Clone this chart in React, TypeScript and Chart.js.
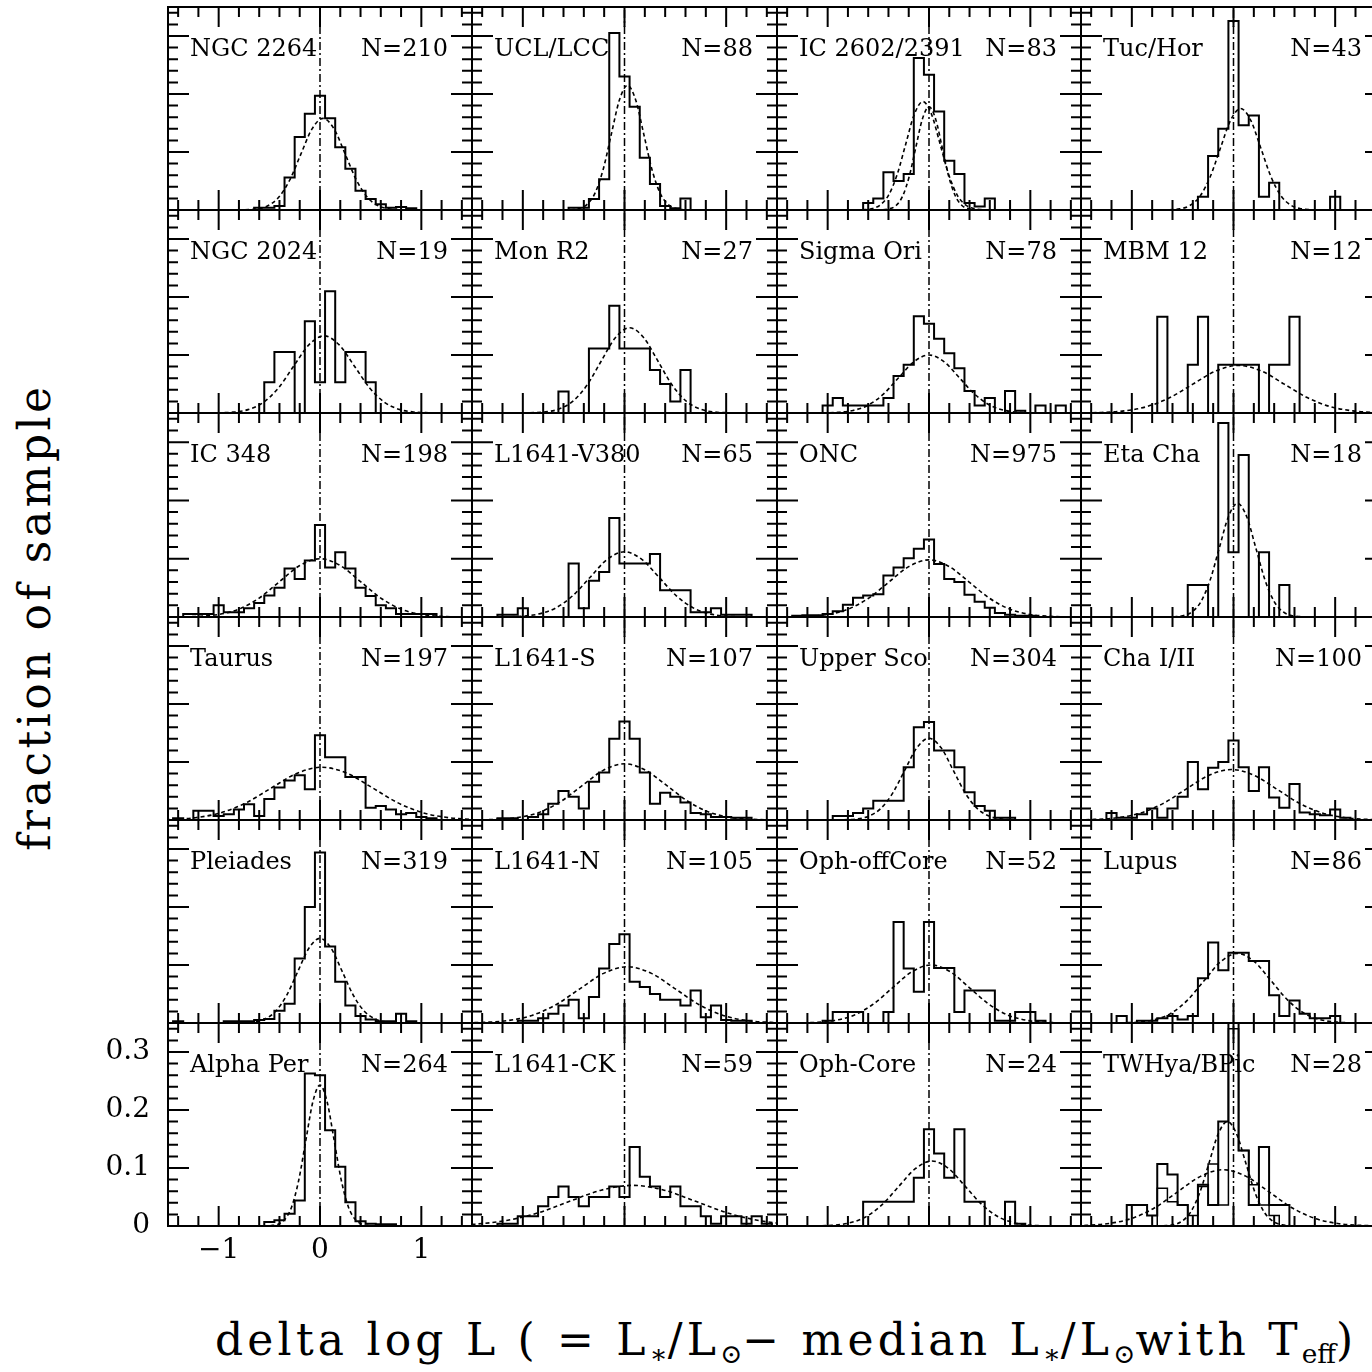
import React, { useEffect, useRef } from "react";
import { Chart, registerables } from "chart.js";

Chart.register(...registerables);

// ---------- data ----------
const panelNames = [
  "NGC 2264", "UCL/LCC", "IC 2602/2391", "Tuc/Hor",
  "NGC 2024", "Mon R2", "Sigma Ori", "MBM 12",
  "IC 348", "L1641-V380", "ONC", "Eta Cha",
  "Taurus", "L1641-S", "Upper Sco", "Cha I/II",
  "Pleiades", "L1641-N", "Oph-offCore", "Lupus",
  "Alpha Per", "L1641-CK", "Oph-Core", "TWHya/BPic",
];
const panelCounts = [
  "N=210", "N=88", "N=83", "N=43",
  "N=19", "N=27", "N=78", "N=12",
  "N=198", "N=65", "N=975", "N=18",
  "N=197", "N=107", "N=304", "N=100",
  "N=319", "N=105", "N=52", "N=86",
  "N=264", "N=59", "N=24", "N=28",
];

const binCenters = [
  -1.5, -1.4, -1.3, -1.2, -1.1, -1.0, -0.9, -0.8, -0.7, -0.6, -0.5, -0.4, -0.3, -0.2, -0.1,
  0, 0.1, 0.2, 0.3, 0.4, 0.5, 0.6, 0.7, 0.8, 0.9, 1.0, 1.1, 1.2, 1.3, 1.4, 1.5,
];
const binWidth = 0.1;

// centre of the first listed bin for each panel
const histStart = [
  -0.6, -0.5, -0.6, -0.3,
  -0.5, -0.6, -1.0, -0.7,
  -1.3, -1.2, -1.3, -0.4,
  -1.4, -1.2, -0.9, -1.2,
  -1.4, -1.0, -1.0, -1.1,
  -0.5, -1.2, -0.6, -1.0,
];
const histValues = [
  [0.004, 0.004, 0.007, 0.056, 0.126, 0.166, 0.197, 0.158, 0.108, 0.071, 0.033, 0.019, 0.010, 0.004, 0.005, 0.003],
  [0.004, 0.004, 0.019, 0.053, 0.305, 0.23, 0.178, 0.09, 0.045, 0.007, 0.003, 0.02],
  [0.012, 0.02, 0.065, 0.05, 0.062, 0.262, 0.233, 0.17, 0.085, 0.062, 0.012, 0.006, 0.02],
  [0.023, 0.093, 0.14, 0.326, 0.146, 0.163, 0.023, 0.047, 0, 0, 0, 0, 0, 0.023],
  [0.053, 0.105, 0.105, 0, 0.158, 0.053, 0.21, 0.053, 0.105, 0.105, 0.053],
  [0.037, 0, 0, 0.111, 0.111, 0.185, 0.111, 0.111, 0.111, 0.074, 0.05, 0.02, 0.074],
  [0.013, 0.026, 0.013, 0.013, 0.013, 0.013, 0.026, 0.064, 0.083, 0.167, 0.154, 0.128, 0.103, 0.077, 0.038, 0.013, 0.026, 0, 0.038, 0.004, 0, 0.013, 0, 0.013],
  [0.166, 0, 0, 0.083, 0.166, 0, 0.083, 0.083, 0.083, 0.083, 0, 0.083, 0.083, 0.166],
  [0.005, 0.005, 0.005, 0.02, 0.008, 0.008, 0.015, 0.024, 0.037, 0.05, 0.083, 0.065, 0.097, 0.158, 0.085, 0.111, 0.083, 0.05, 0.036, 0.02, 0.015, 0.005, 0.005, 0.005, 0.005],
  [0.004, 0.004, 0.015, 0, 0, 0, 0, 0.092, 0.015, 0.062, 0.077, 0.17, 0.092, 0.092, 0.092, 0.108, 0.046, 0.046, 0.046, 0.008, 0.008, 0.015, 0.004, 0.004, 0.004],
  [0.002, 0.003, 0.003, 0.005, 0.01, 0.021, 0.033, 0.037, 0.039, 0.071, 0.085, 0.101, 0.117, 0.133, 0.091, 0.065, 0.06, 0.038, 0.026, 0.016, 0.007, 0.004, 0.002, 0.002],
  [0.055, 0.055, 0, 0.333, 0.111, 0.278, 0, 0.111, 0, 0.055],
  [0.003, 0, 0.016, 0.016, 0.007, 0.01, 0.018, 0.027, 0.007, 0.036, 0.056, 0.068, 0.077, 0.053, 0.146, 0.108, 0.108, 0.074, 0.074, 0.021, 0.024, 0.018, 0.01, 0.012, 0.005, 0.003],
  [0.003, 0.003, 0, 0.005, 0.01, 0.028, 0.05, 0.04, 0.02, 0.066, 0.082, 0.14, 0.17, 0.14, 0.082, 0.028, 0.047, 0.04, 0.03, 0.012, 0.01, 0.005, 0.005, 0.004, 0.004],
  [0.007, 0.007, 0.012, 0.02, 0.033, 0.033, 0.033, 0.091, 0.16, 0.169, 0.12, 0.12, 0.091, 0.048, 0.024, 0.016, 0.004, 0.004],
  [0.012, 0.004, 0.004, 0.01, 0.02, 0.004, 0.02, 0.04, 0.1, 0.053, 0.09, 0.1, 0.137, 0.091, 0.05, 0.091, 0.039, 0.021, 0.062, 0.013, 0.01, 0.008, 0.018, 0.004],
  [0.003, 0, 0, 0, 0, 0.003, 0.003, 0.003, 0.005, 0.007, 0.021, 0.033, 0.111, 0.2, 0.294, 0.132, 0.071, 0.03, 0.012, 0.006, 0.003, 0.003, 0.016, 0.003],
  [0.004, 0.004, 0.008, 0.016, 0.03, 0.04, 0.008, 0.045, 0.094, 0.136, 0.153, 0.071, 0.062, 0.05, 0.04, 0.04, 0.03, 0.056, 0.01, 0.03, 0.005, 0.004, 0.004],
  [0.004, 0.019, 0.019, 0.019, 0, 0, 0.019, 0.174, 0.094, 0.054, 0.174, 0.095, 0.095, 0.019, 0.056, 0.056, 0.056, 0.004, 0.004, 0.019, 0.019, 0.004],
  [0.012, 0, 0.004, 0.004, 0.008, 0.012, 0.006, 0.012, 0.077, 0.139, 0.091, 0.121, 0.121, 0.107, 0.107, 0.048, 0.012, 0.039, 0.016, 0.008, 0.008, 0.012],
  [0.007, 0.01, 0.021, 0.044, 0.263, 0.26, 0.165, 0.102, 0.041, 0.008, 0.004, 0.003, 0.003],
  [0.004, 0.004, 0.017, 0.017, 0.034, 0.05, 0.068, 0.05, 0.034, 0.05, 0.05, 0.068, 0.05, 0.136, 0.085, 0.068, 0.05, 0.068, 0.034, 0.034, 0.017, 0.004, 0.017, 0.017, 0.004, 0.017, 0.004],
  [0.042, 0.042, 0.042, 0.042, 0.042, 0.083, 0.167, 0.125, 0.083, 0.167, 0.042, 0.042, 0, 0, 0.042, 0.004],
  [0.036, 0.036, 0.018, 0.107, 0.089, 0.036, 0, 0.071, 0.036, 0.18, 0.36, 0.13, 0.036, 0.136, 0.036, 0.036],
];

// second (overlaid) histogram
const overlayHistPanel = [23];
const overlayHistStart = [-0.7];
const overlayHistValues = [
  [0.065, 0.042, 0.036, 0.018, 0.068, 0.107, 0.036, 0.34, 0.13, 0.071, 0.036, 0.018],
];

// fitted curves, points
const fitPanel = [0, 1, 2, 2, 3, 4, 5, 6, 7, 8, 9, 10, 11, 12, 13, 14, 15, 16, 17, 18, 19, 20, 21, 22, 23, 23];
const fitX = [
  [-0.74, -0.63, -0.52, -0.41, -0.30, -0.19, -0.08, 0.03, 0.14, 0.25, 0.36, 0.47, 0.58, 0.69, 0.80],
  [-0.53, -0.45, -0.37, -0.29, -0.21, -0.13, -0.05, 0.03, 0.11, 0.19, 0.27, 0.35, 0.43, 0.51, 0.59],
  [-0.655, -0.57, -0.485, -0.40, -0.315, -0.23, -0.145, -0.06, 0.025, 0.11, 0.195, 0.28, 0.365, 0.45, 0.535],
  [-0.455, -0.39, -0.325, -0.26, -0.195, -0.13, -0.065, 0, 0.065, 0.13, 0.195, 0.26, 0.325, 0.39, 0.455],
  [-0.63, -0.53, -0.43, -0.33, -0.23, -0.13, -0.03, 0.07, 0.17, 0.27, 0.37, 0.47, 0.57, 0.67, 0.77],
  [-1.01, -0.86, -0.71, -0.56, -0.41, -0.26, -0.11, 0.04, 0.19, 0.34, 0.49, 0.64, 0.79, 0.94, 1.09],
  [-0.93, -0.79, -0.65, -0.51, -0.37, -0.23, -0.09, 0.05, 0.19, 0.33, 0.47, 0.61, 0.75, 0.89, 1.03],
  [-1.05, -0.9, -0.75, -0.6, -0.45, -0.3, -0.15, 0, 0.15, 0.3, 0.45, 0.6, 0.75, 0.9, 1.05],
  [-1.525, -1.3, -1.075, -0.85, -0.625, -0.4, -0.175, 0.05, 0.275, 0.5, 0.725, 0.95, 1.175, 1.4, 1.625],
  [-1.4, -1.2, -1.0, -0.8, -0.6, -0.4, -0.2, 0, 0.2, 0.4, 0.6, 0.8, 1.0, 1.2, 1.4],
  [-1.19, -1.02, -0.85, -0.68, -0.51, -0.34, -0.17, 0, 0.17, 0.34, 0.51, 0.68, 0.85, 1.02, 1.19],
  [-1.4, -1.2, -1.0, -0.8, -0.6, -0.4, -0.2, 0, 0.2, 0.4, 0.6, 0.8, 1.0, 1.2, 1.4],
  [-0.59, -0.5, -0.41, -0.32, -0.23, -0.14, -0.05, 0.04, 0.13, 0.22, 0.31, 0.40, 0.49, 0.58, 0.67],
  [-1.73, -1.48, -1.23, -0.98, -0.73, -0.48, -0.23, 0.02, 0.27, 0.52, 0.77, 1.02, 1.27, 1.52, 1.77],
  [-1.47, -1.26, -1.05, -0.84, -0.63, -0.42, -0.21, 0, 0.21, 0.42, 0.63, 0.84, 1.05, 1.26, 1.47],
  [-0.84, -0.72, -0.6, -0.48, -0.36, -0.24, -0.12, 0, 0.12, 0.24, 0.36, 0.48, 0.6, 0.72, 0.84],
  [-1.595, -1.37, -1.145, -0.92, -0.695, -0.47, -0.245, -0.02, 0.205, 0.43, 0.655, 0.88, 1.105, 1.33, 1.555],
  [-0.77, -0.66, -0.55, -0.44, -0.33, -0.22, -0.11, 0, 0.11, 0.22, 0.33, 0.44, 0.55, 0.66, 0.77],
  [-1.615, -1.38, -1.145, -0.91, -0.675, -0.44, -0.205, 0.03, 0.265, 0.5, 0.735, 0.97, 1.205, 1.44, 1.675],
  [-1.31, -1.12, -0.93, -0.74, -0.55, -0.36, -0.17, 0.02, 0.21, 0.40, 0.59, 0.78, 0.97, 1.16, 1.35],
  [-1.115, -0.95, -0.785, -0.62, -0.455, -0.29, -0.125, 0.04, 0.205, 0.37, 0.535, 0.70, 0.865, 1.03, 1.195],
  [-0.49, -0.42, -0.35, -0.28, -0.21, -0.14, -0.07, 0, 0.07, 0.14, 0.21, 0.28, 0.35, 0.42, 0.49],
  [-2.09, -1.78, -1.47, -1.16, -0.85, -0.54, -0.23, 0.08, 0.39, 0.70, 1.01, 1.32, 1.63, 1.94, 2.25],
  [-1.125, -0.96, -0.795, -0.63, -0.465, -0.30, -0.135, 0.03, 0.195, 0.36, 0.525, 0.69, 0.855, 1.02, 1.185],
  [-0.69, -0.6, -0.51, -0.42, -0.33, -0.24, -0.15, -0.06, 0.03, 0.12, 0.21, 0.30, 0.39, 0.48, 0.57],
  [-1.675, -1.45, -1.225, -1.0, -0.775, -0.55, -0.325, -0.1, 0.125, 0.35, 0.575, 0.80, 1.025, 1.25, 1.475],
];
const fitY = [
  [0.0003, 0.0018, 0.0069, 0.0214, 0.0513, 0.0958, 0.1394, 0.158, 0.1394, 0.0958, 0.0513, 0.0214, 0.0069, 0.0018, 0.0003],
  [0.0005, 0.0024, 0.0094, 0.0291, 0.0698, 0.1304, 0.1897, 0.215, 0.1897, 0.1304, 0.0698, 0.0291, 0.0094, 0.0024, 0.0005],
  [0.0004, 0.0021, 0.0082, 0.0253, 0.0607, 0.1134, 0.165, 0.187, 0.165, 0.1134, 0.0607, 0.0253, 0.0082, 0.0021, 0.0004],
  [0.0004, 0.002, 0.0078, 0.0241, 0.0578, 0.108, 0.1571, 0.178, 0.1571, 0.108, 0.0578, 0.0241, 0.0078, 0.002, 0.0004],
  [0.0004, 0.0019, 0.0077, 0.0237, 0.0568, 0.1061, 0.1544, 0.175, 0.1544, 0.1061, 0.0568, 0.0237, 0.0077, 0.0019, 0.0004],
  [0.0003, 0.0015, 0.0058, 0.018, 0.0432, 0.0807, 0.1174, 0.133, 0.1174, 0.0807, 0.0432, 0.018, 0.0058, 0.0015, 0.0003],
  [0.0003, 0.0016, 0.0065, 0.0199, 0.0477, 0.0892, 0.1297, 0.147, 0.1297, 0.0892, 0.0477, 0.0199, 0.0065, 0.0016, 0.0003],
  [0.0002, 0.0011, 0.0044, 0.0135, 0.0325, 0.0607, 0.0883, 0.1, 0.0883, 0.0607, 0.0325, 0.0135, 0.0044, 0.0011, 0.0002],
  [0.0002, 0.0009, 0.0036, 0.0111, 0.0266, 0.0497, 0.0724, 0.082, 0.0724, 0.0497, 0.0266, 0.0111, 0.0036, 0.0009, 0.0002],
  [0.0002, 0.0011, 0.0044, 0.0135, 0.0325, 0.0607, 0.0883, 0.1, 0.0883, 0.0607, 0.0325, 0.0135, 0.0044, 0.0011, 0.0002],
  [0.0002, 0.0012, 0.0049, 0.0152, 0.0364, 0.0679, 0.0988, 0.112, 0.0988, 0.0679, 0.0364, 0.0152, 0.0049, 0.0012, 0.0002],
  [0.0002, 0.0011, 0.0043, 0.0133, 0.0318, 0.0594, 0.0865, 0.098, 0.0865, 0.0594, 0.0318, 0.0133, 0.0043, 0.0011, 0.0002],
  [0.0004, 0.0022, 0.0086, 0.0264, 0.0633, 0.1183, 0.1721, 0.195, 0.1721, 0.1183, 0.0633, 0.0264, 0.0086, 0.0022, 0.0004],
  [0.0002, 0.001, 0.004, 0.0123, 0.0295, 0.0552, 0.0803, 0.091, 0.0803, 0.0552, 0.0295, 0.0123, 0.004, 0.001, 0.0002],
  [0.0002, 0.0011, 0.0043, 0.0131, 0.0315, 0.0588, 0.0856, 0.097, 0.0856, 0.0588, 0.0315, 0.0131, 0.0043, 0.0011, 0.0002],
  [0.0003, 0.0016, 0.0062, 0.0191, 0.0458, 0.0855, 0.1244, 0.141, 0.1244, 0.0855, 0.0458, 0.0191, 0.0062, 0.0016, 0.0003],
  [0.0002, 0.001, 0.0038, 0.0118, 0.0282, 0.0528, 0.0768, 0.087, 0.0768, 0.0528, 0.0282, 0.0118, 0.0038, 0.001, 0.0002],
  [0.0003, 0.0016, 0.0064, 0.0198, 0.0474, 0.0885, 0.1288, 0.146, 0.1288, 0.0885, 0.0474, 0.0198, 0.0064, 0.0016, 0.0003],
  [0.0002, 0.0011, 0.0043, 0.0131, 0.0315, 0.0588, 0.0856, 0.097, 0.0856, 0.0588, 0.0315, 0.0131, 0.0043, 0.0011, 0.0002],
  [0.0002, 0.0011, 0.0044, 0.0135, 0.0325, 0.0607, 0.0883, 0.1, 0.0883, 0.0607, 0.0325, 0.0135, 0.0044, 0.0011, 0.0002],
  [0.0003, 0.0013, 0.0053, 0.0162, 0.039, 0.0728, 0.1059, 0.12, 0.1059, 0.0728, 0.039, 0.0162, 0.0053, 0.0013, 0.0003],
  [0.0005, 0.0027, 0.0107, 0.0329, 0.0789, 0.1474, 0.2144, 0.243, 0.2144, 0.1474, 0.0789, 0.0329, 0.0107, 0.0027, 0.0005],
  [0.0002, 0.0008, 0.0031, 0.0095, 0.0227, 0.0425, 0.0618, 0.07, 0.0618, 0.0425, 0.0227, 0.0095, 0.0031, 0.0008, 0.0002],
  [0.0002, 0.0012, 0.0049, 0.0152, 0.0364, 0.0679, 0.0988, 0.112, 0.0988, 0.0679, 0.0364, 0.0152, 0.0049, 0.0012, 0.0002],
  [0.0004, 0.002, 0.0079, 0.0244, 0.0584, 0.1092, 0.1589, 0.18, 0.1589, 0.1092, 0.0584, 0.0244, 0.0079, 0.002, 0.0004],
  [0.0002, 0.0011, 0.0043, 0.0131, 0.0315, 0.0588, 0.0856, 0.097, 0.0856, 0.0588, 0.0315, 0.0131, 0.0043, 0.0011, 0.0002],
];

const xRange = [-1.5, 1.5];
const yRange = [0, 0.35];
const xMajorTicks = [-1, 0, 1];
const xMinorTicks = [-1.4, -1.2, -0.8, -0.6, -0.4, -0.2, 0.2, 0.4, 0.6, 0.8, 1.2, 1.4];
const yMajorTicks = [0.1, 0.2, 0.3];
const yMinorTicks = [0.02, 0.04, 0.06, 0.08, 0.12, 0.14, 0.16, 0.18, 0.22, 0.24, 0.26, 0.28, 0.32, 0.34];
const xTickValues = [-1, 0, 1];
const xTickLabels = ["\u22121", "0", "1"];
const yTickValues = [0, 0.1, 0.2, 0.3];
const yTickLabels = ["0", "0.1", "0.2", "0.3"];

// ---------- layout ----------
const colLefts = [168, 472, 777, 1081];
const colWidths = [304, 305, 304, 305];
const rowTops = [7, 210, 413, 617, 820, 1023];
const rowHeights = [203, 203, 204, 203, 203, 203];
const AXIS_PANEL = 20;
const SERIF = "'DejaVu Serif', 'Liberation Serif', serif";

function panelBox(p: number) {
  const r = Math.floor(p / 4);
  const c = p % 4;
  return { L: colLefts[c], T: rowTops[r], W: colWidths[c], H: rowHeights[r] };
}

function canvasBox(p: number) {
  const { L, T, W, H } = panelBox(p);
  const axis = p === AXIS_PANEL;
  const padL = axis ? 90 : 2;
  const padT = axis ? 40 : 2;
  const padR = 2;
  const padB = axis ? 60 : 2;
  return { left: L - padL, top: T - padT, width: W + padL + padR, height: H + padT + padB, padL, padT, padR, padB };
}

function histPoints(start: number, values: number[]) {
  return binCenters.map((x) => {
    const k = Math.round((x - start) / binWidth);
    return { x, y: k >= 0 && k < values.length ? values[k] : 0 };
  });
}

const framePlugin = {
  id: "panelFrame",
  afterDraw(chart: any) {
    const { ctx, chartArea: a, scales } = chart;
    const xs = scales.x;
    const ys = scales.y;
    ctx.save();
    ctx.strokeStyle = "#000";
    ctx.lineWidth = 2;
    ctx.lineCap = "butt";
    ctx.beginPath();
    const xt = (v: number, len: number) => {
      const px = xs.getPixelForValue(v);
      ctx.moveTo(px, a.bottom);
      ctx.lineTo(px, a.bottom - len);
      ctx.moveTo(px, a.top);
      ctx.lineTo(px, a.top + len);
    };
    const yt = (v: number, len: number) => {
      const py = ys.getPixelForValue(v);
      ctx.moveTo(a.left, py);
      ctx.lineTo(a.left + len, py);
      ctx.moveTo(a.right, py);
      ctx.lineTo(a.right - len, py);
    };
    xMinorTicks.forEach((v) => xt(v, 10));
    xMajorTicks.forEach((v) => xt(v, 20));
    yMinorTicks.forEach((v) => yt(v, 10));
    yMajorTicks.forEach((v) => yt(v, 21));
    ctx.stroke();
    ctx.strokeRect(a.left, a.top, a.right - a.left, a.bottom - a.top);
    ctx.restore();
  },
};

export default function App() {
  const refs = useRef<(HTMLCanvasElement | null)[]>([]);

  useEffect(() => {
    const charts: Chart[] = [];
    panelNames.forEach((_, p) => {
      const canvas = refs.current[p];
      if (!canvas) return;
      const axis = p === AXIS_PANEL;
      const cb = canvasBox(p);
      const datasets: any[] = [];
      datasets.push({
        data: histPoints(histStart[p], histValues[p]),
        stepped: "middle",
        borderColor: "#000",
        borderWidth: 2,
        pointRadius: 0,
        fill: false,
      });
      overlayHistPanel.forEach((op, k) => {
        if (op === p) {
          datasets.push({
            data: histPoints(overlayHistStart[k], overlayHistValues[k]),
            stepped: "middle",
            borderColor: "#000",
            borderWidth: 1.5,
            pointRadius: 0,
            fill: false,
          });
        }
      });
      fitPanel.forEach((fp, k) => {
        if (fp === p) {
          datasets.push({
            data: fitX[k].map((x, i) => ({ x, y: fitY[k][i] })),
            borderColor: "#000",
            borderWidth: 1.6,
            borderDash: [4, 3],
            pointRadius: 0,
            cubicInterpolationMode: "monotone",
            fill: false,
          });
        }
      });
      datasets.push({
        data: [{ x: 0, y: yRange[0] }, { x: 0, y: yRange[1] }],
        borderColor: "#000",
        borderWidth: 1.5,
        borderDash: [8, 3, 2, 3],
        pointRadius: 0,
        fill: false,
      });

      const tickFont = { family: SERIF, size: 28 };
      const chart = new Chart(canvas, {
        type: "line",
        data: { datasets },
        options: {
          responsive: false,
          animation: false,
          events: [],
          devicePixelRatio: 1,
          layout: { padding: { left: axis ? 0 : cb.padL, top: cb.padT, right: cb.padR, bottom: axis ? 0 : cb.padB } },
          plugins: { legend: { display: false }, tooltip: { enabled: false }, title: { display: false } },
          scales: {
            x: {
              type: "linear",
              min: xRange[0],
              max: xRange[1],
              display: axis,
              grid: { display: false, drawTicks: false },
              border: { display: false },
              afterBuildTicks: (s: any) => {
                s.ticks = xTickValues.map((v) => ({ value: v }));
              },
              afterFit: (s: any) => {
                if (axis) s.height = cb.padB;
              },
              ticks: {
                autoSkip: false,
                maxRotation: 0,
                padding: 8,
                color: "#000",
                font: tickFont,
                callback: (_v: any, i: number) => xTickLabels[i],
              },
            },
            y: {
              type: "linear",
              min: yRange[0],
              max: yRange[1],
              display: axis,
              grid: { display: false, drawTicks: false },
              border: { display: false },
              afterBuildTicks: (s: any) => {
                s.ticks = yTickValues.map((v) => ({ value: v }));
              },
              afterFit: (s: any) => {
                if (axis) s.width = cb.padL;
              },
              ticks: {
                autoSkip: false,
                padding: 18,
                color: "#000",
                font: tickFont,
                callback: (_v: any, i: number) => yTickLabels[i],
              },
            },
          },
        } as any,
        plugins: [framePlugin],
      });
      charts.push(chart);
    });
    return () => charts.forEach((c) => c.destroy());
  }, []);

  const labelStyle: React.CSSProperties = {
    position: "absolute",
    fontFamily: SERIF,
    fontSize: 24,
    lineHeight: "24px",
    color: "#000",
    whiteSpace: "nowrap",
  };
  const subStyle: React.CSSProperties = { fontSize: "0.6em", verticalAlign: "-0.3em", letterSpacing: 0 };

  return (
    <div
      style={{
        position: "fixed",
        left: 0,
        top: 0,
        width: 1372,
        height: 1372,
        overflow: "hidden",
        background: "#fff",
      }}
    >
      {panelNames.map((_, p) => {
        const cb = canvasBox(p);
        return (
          <canvas
            key={"c" + p}
            ref={(el) => {
              refs.current[p] = el;
            }}
            width={cb.width}
            height={cb.height}
            style={{ position: "absolute", left: cb.left, top: cb.top, width: cb.width, height: cb.height }}
          />
        );
      })}
      {panelNames.map((name, p) => {
        const { L, T, W } = panelBox(p);
        return (
          <React.Fragment key={"l" + p}>
            <div style={{ ...labelStyle, left: L + 22, top: T + 29 }}>{name}</div>
            <div style={{ ...labelStyle, right: 1372 - (L + W - 24), top: T + 29 }}>{panelCounts[p]}</div>
          </React.Fragment>
        );
      })}
      <div
        style={{
          position: "absolute",
          left: 35,
          top: 617,
          transform: "translate(-50%, -50%) rotate(-90deg)",
          fontFamily: SERIF,
          fontSize: 44,
          lineHeight: "44px",
          letterSpacing: "3.5px",
          whiteSpace: "nowrap",
          color: "#000",
        }}
      >
        fraction of sample
      </div>
      <div
        style={{
          position: "absolute",
          left: 215,
          top: 1318,
          fontFamily: SERIF,
          fontSize: 44,
          lineHeight: "44px",
          letterSpacing: "4.2px",
          whiteSpace: "nowrap",
          color: "#000",
        }}
      >
        delta log L ( = L<sub style={subStyle}>{"\u2217"}</sub>/L<sub style={subStyle}>{"\u2299"}</sub>{"\u2212"} median L
        <sub style={subStyle}>{"\u2217"}</sub>/L<sub style={subStyle}>{"\u2299"}</sub>with T<sub style={subStyle}>eff</sub>)
      </div>
    </div>
  );
}
